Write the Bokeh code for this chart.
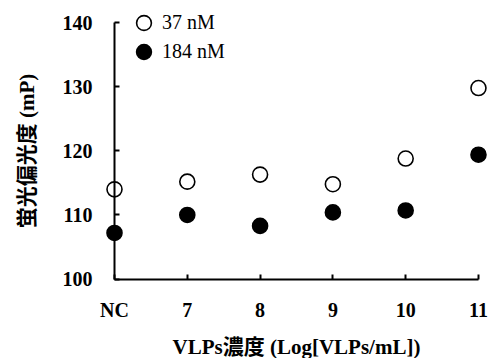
from bokeh.plotting import figure
from bokeh.models import Range1d, FixedTicker, Legend, LegendItem, LinearAxis
from bokeh.embed import file_html
from bokeh.resources import INLINE

x_labels = ["NC", "7", "8", "9", "10", "11"]
mp_37nM = [114.0, 115.2, 116.3, 114.8, 118.8, 129.8]
mp_184nM = [107.2, 110.0, 108.3, 110.4, 110.7, 119.4]
y_ticks = [100, 110, 120, 130, 140]
series_names = ["37 nM", "184 nM"]

x_pos = list(range(len(x_labels)))

FONT = "'Liberation Serif', 'Noto Sans CJK JP'"

p = figure(width=491, height=358, output_backend="svg", toolbar_location=None,
           x_range=Range1d(-1.566, 5.179), y_range=Range1d(87.61, 143.46),
           x_axis_location=None, y_axis_location=None,
           min_border_left=0, min_border_right=0, min_border_top=0, min_border_bottom=0)
p.outline_line_color = None
p.background_fill_color = None
p.border_fill_color = "white"
p.grid.visible = False

r1 = p.scatter(x_pos, mp_37nM, size=15, marker="circle", fill_color="white",
               line_color="black", line_width=1.6)
r2 = p.scatter(x_pos, mp_184nM, size=15, marker="circle", fill_color="black",
               line_color="black", line_width=1.6)

yaxis = LinearAxis(fixed_location=0, bounds=(100, 140), ticker=FixedTicker(ticks=y_ticks),
                   axis_label="蛍光偏光度 (mP)")
xaxis = LinearAxis(fixed_location=100, bounds=(0, len(x_labels) - 1),
                   ticker=FixedTicker(ticks=x_pos),
                   major_label_overrides={i: lab for i, lab in zip(x_pos, x_labels)},
                   axis_label="VLPs濃度 (Log[VLPs/mL])")
for ax in (xaxis, yaxis):
    ax.axis_line_width = 2
    ax.axis_line_color = "black"
    ax.major_tick_in = 5
    ax.major_tick_out = 0
    ax.major_tick_line_width = 2
    ax.minor_tick_in = 0
    ax.minor_tick_out = 0
    ax.major_label_text_font = FONT
    ax.major_label_text_font_size = "20px"
    ax.major_label_text_font_style = "bold"
    ax.major_label_text_color = "black"
    ax.axis_label_text_font = FONT
    ax.axis_label_text_font_size = "21px"
    ax.axis_label_text_font_style = "bold"
    ax.axis_label_text_color = "black"
yaxis.major_label_standoff = 22
yaxis.axis_label_standoff = 21
xaxis.major_label_standoff = 20
xaxis.axis_label_standoff = 10
p.add_layout(yaxis, "left")
p.add_layout(xaxis, "below")

legend_y = [317, 288]
for name, rend, ly in zip(series_names, [r1, r2], legend_y):
    lg = Legend(items=[LegendItem(label=name, renderers=[rend])],
                location=(125, ly), orientation="vertical",
                glyph_width=37, glyph_height=37, padding=0, margin=0,
                label_standoff=0, label_text_font="'Liberation Serif'",
                label_text_font_size="20px", label_text_color="black",
                border_line_color=None, background_fill_color=None)
    p.add_layout(lg)

open("out.html", "w").write(file_html(p, INLINE))
